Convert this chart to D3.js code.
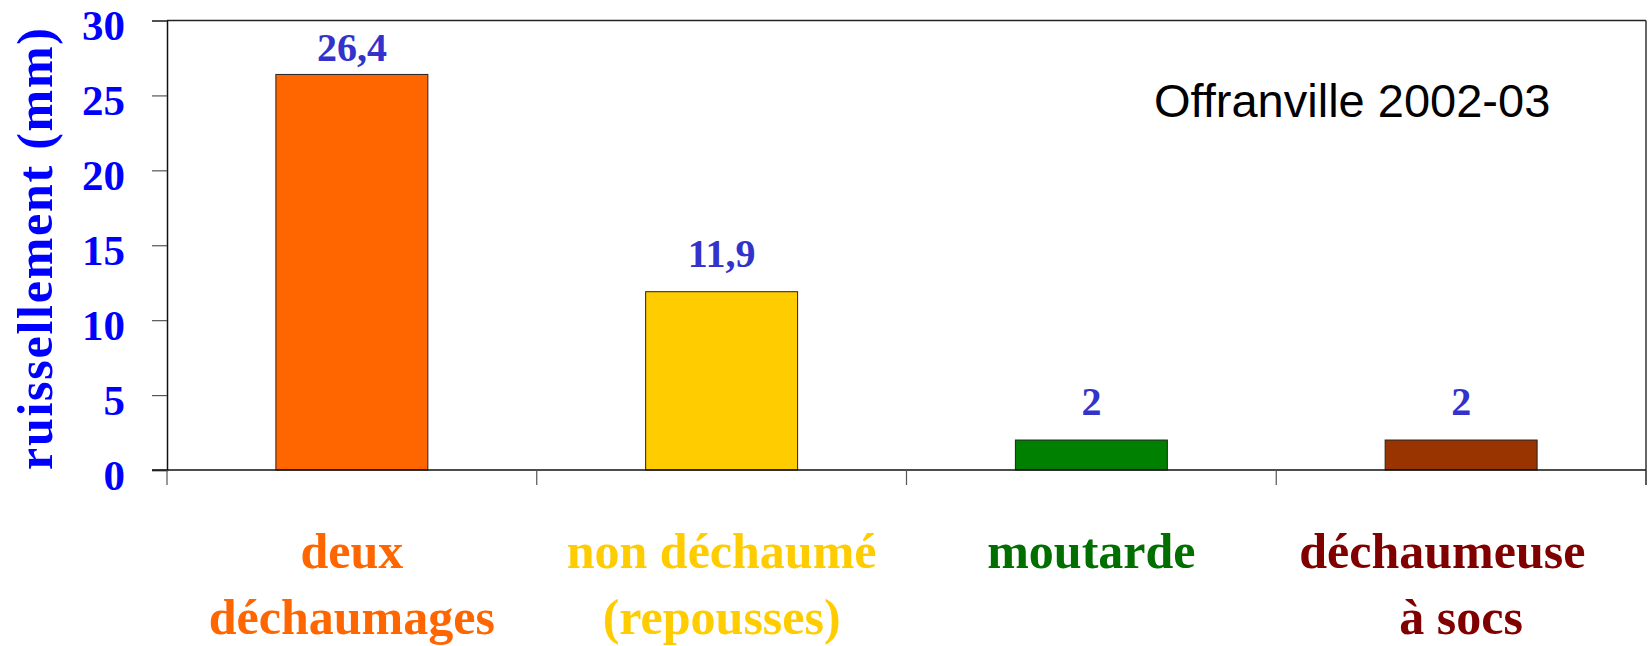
<!DOCTYPE html>
<html>
<head>
<meta charset="utf-8">
<script src="https://cdn.jsdelivr.net/npm/d3@7"></script>
<style>
  html, body { margin: 0; padding: 0; background: #fff; }
  svg { display: block; }
</style>
</head>
<body>
<svg id="chart" width="1648" height="646"></svg>
<script>
const categories = ["deux déchaumages", "non déchaumé (repousses)", "moutarde", "déchaumeuse à socs"];
const categoryLines = [["deux", "déchaumages"], ["non déchaumé", "(repousses)"], ["moutarde"], ["déchaumeuse\u00a0\u00a0\u00a0", "à socs"]];
const values = [26.4, 11.9, 2, 2];
const valueLabels = ["26,4", "11,9", "2", "2"];
const yTicks = [0, 5, 10, 15, 20, 25, 30];
const barColors = ["#FF6600", "#FFCC00", "#008000", "#993300"];
const textColors = ["#FF6600", "#FFCC00", "#006F00", "#800000"];
const yTitle = "ruissellement (mm)";
const siteLabel = "Offranville 2002-03";

(function () {
const svg = d3.select("#chart");
const mLeft = 167, mRight = 1646, mTop = 20.5, mBottom = 470;

const y = d3.scaleLinear().domain([0, 30]).range([mBottom, mTop]);
const x = d3.scaleBand().domain(categories).range([mLeft, mRight])
  .paddingInner(0.589).paddingOuter(0.2945);

// frame: top and right
svg.append("line").attr("x1", mLeft).attr("x2", mRight).attr("y1", mTop).attr("y2", mTop)
  .attr("stroke", "#222").attr("stroke-width", 1.5);
svg.append("line").attr("x1", mRight).attr("x2", mRight).attr("y1", mTop).attr("y2", mBottom + 15)
  .attr("stroke", "#333").attr("stroke-width", 1.5);

// y axis
const yAxis = d3.axisLeft(y).tickValues(yTicks).tickSize(15).tickFormat(d3.format("d"));
const gy = svg.append("g").attr("transform", `translate(${mLeft},0)`).call(yAxis);
gy.select(".domain").attr("stroke", "#111").attr("stroke-width", 1.5);
gy.selectAll(".tick line").attr("stroke", "#555").attr("stroke-width", 1.2);
gy.selectAll(".tick text")
  .attr("x", -42).attr("dy", "0.45em")
  .attr("fill", "#0000FF")
  .style("font-family", "'Liberation Serif', serif")
  .style("font-weight", "bold")
  .style("font-size", "43px");

// bars
svg.append("g").selectAll("rect").data(values).join("rect")
  .attr("x", (d, i) => x(categories[i]))
  .attr("width", x.bandwidth())
  .attr("y", d => y(d))
  .attr("height", d => y(0) - y(d))
  .attr("fill", (d, i) => barColors[i])
  .attr("stroke", "#222").attr("stroke-width", 1);

// x axis baseline
svg.append("line").attr("x1", mLeft - 15).attr("x2", mRight).attr("y1", mBottom).attr("y2", mBottom)
  .attr("stroke", "#111").attr("stroke-width", 1.5);
// category boundary ticks
const step = x.step();
svg.append("g").selectAll("line").data(d3.range(categories.length + 1)).join("line")
  .attr("x1", i => mLeft + i * step).attr("x2", i => mLeft + i * step)
  .attr("y1", mBottom).attr("y2", mBottom + 15)
  .attr("stroke", "#555").attr("stroke-width", 1.2);

// value labels
svg.append("g").selectAll("text").data(values).join("text")
  .attr("x", (d, i) => x(categories[i]) + x.bandwidth() / 2)
  .attr("y", d => Math.max(y(d) - 25, 61))
  .attr("text-anchor", "middle")
  .attr("fill", "#3333CC")
  .style("font-family", "'Liberation Serif', serif")
  .style("font-weight", "bold")
  .style("font-size", "40px")
  .text((d, i) => valueLabels[i]);

// category labels
const cl = svg.append("g").selectAll("text").data(categories).join("text")
  .attr("text-anchor", "middle")
  .attr("fill", (d, i) => textColors[i])
  .style("font-family", "'Liberation Serif', serif")
  .style("font-weight", "bold")
  .style("font-size", "50px");
cl.each(function (d, i) {
  const cx = x(d) + x.bandwidth() / 2;
  d3.select(this).selectAll("tspan").data(categoryLines[i]).join("tspan")
    .attr("x", cx)
    .attr("y", (t, j) => 568 + j * 66)
    .text(t => t);
});

// y title
svg.append("text")
  .attr("transform", "translate(52,249) rotate(-90)")
  .attr("text-anchor", "middle")
  .attr("fill", "#0000FF")
  .attr("textLength", 442)
  .attr("lengthAdjust", "spacing")
  .style("font-family", "'Liberation Serif', serif")
  .style("font-weight", "bold")
  .style("font-size", "50px")
  .text(yTitle);

// site label
svg.append("text")
  .attr("x", 1154).attr("y", 117)
  .attr("fill", "#000")
  .style("font-family", "'Liberation Sans', Arial, sans-serif")
  .style("font-size", "47px")
  .text(siteLabel);
})();
</script>
</body>
</html>
